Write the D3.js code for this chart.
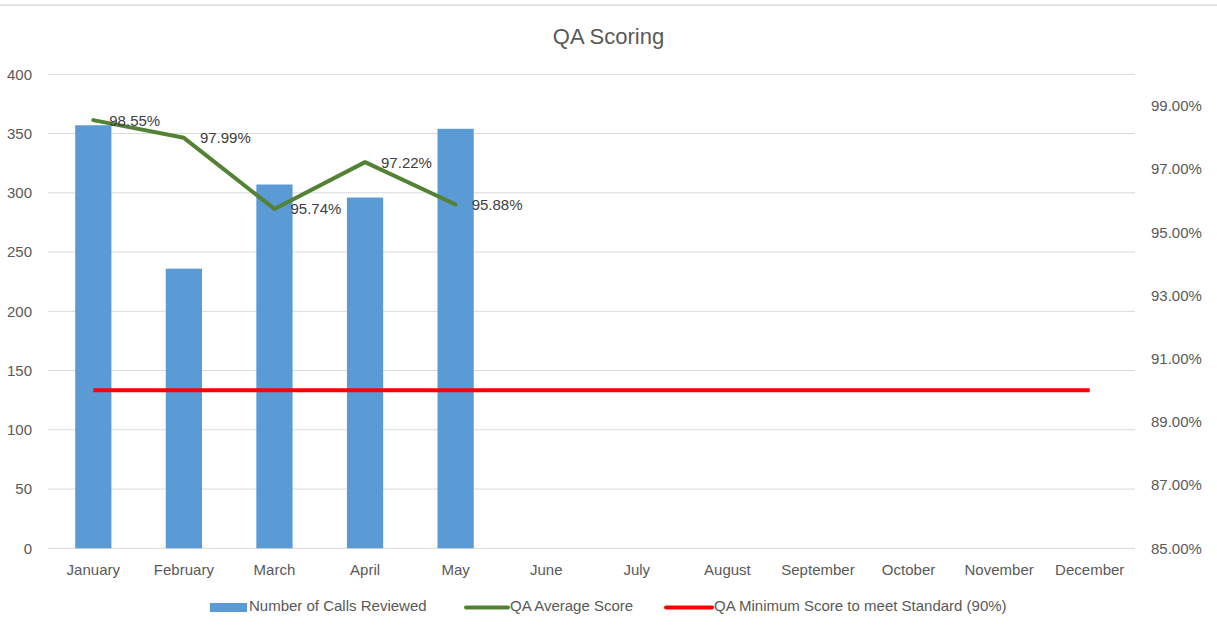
<!DOCTYPE html>
<html>
<head>
<meta charset="utf-8">
<script src="https://cdn.jsdelivr.net/npm/d3@7"></script>
<style>
  html, body { margin: 0; padding: 0; background: #fff; }
  svg { display: block; }
  text { font-family: "Liberation Sans", Arial, sans-serif; fill: #595959; }
</style>
</head>
<body>
<svg id="chart" width="1217" height="628"></svg>
<script>
const months = ["January","February","March","April","May","June","July","August","September","October","November","December"];
const callsReviewed = [357, 236, 307, 296, 354];
const avgScore = [0.9855, 0.9799, 0.9574, 0.9722, 0.9588];
const avgLabels = ["98.55%","97.99%","95.74%","97.22%","95.88%"];
const minScore = [0.90,0.90,0.90,0.90,0.90,0.90,0.90,0.90,0.90,0.90,0.90,0.90];
const leftTicks = [0,50,100,150,200,250,300,350,400];
const rightTicks = [0.85,0.87,0.89,0.91,0.93,0.95,0.97,0.99];
const seriesNames = ["Number of Calls Reviewed","QA Average Score","QA Minimum Score to meet Standard (90%)"];
const title = "QA Scoring";

const svg = d3.select("#chart");
const W = 1217, H = 628;
const plot = {left: 48, right: 1135, top: 74.3, bottom: 548.3};

// chart top border
svg.append("line").attr("x1",0).attr("x2",W).attr("y1",5).attr("y2",5)
  .attr("stroke","#d9d9d9").attr("stroke-width",1.5);

const x = d3.scaleBand().domain(months).range([plot.left, plot.right]).padding(0);
const yL = d3.scaleLinear().domain([0,400]).range([plot.bottom, plot.top]);
const yR = d3.scaleLinear().domain([0.85,1.00]).range([plot.bottom, plot.top]);

// gridlines
svg.append("g").selectAll("line").data(leftTicks).join("line")
  .attr("x1",plot.left).attr("x2",plot.right)
  .attr("y1",d=>yL(d)).attr("y2",d=>yL(d))
  .attr("stroke","#d9d9d9").attr("stroke-width",1);

// title
svg.append("text").attr("x",(plot.left+plot.right)/2 + 17).attr("y",44)
  .attr("text-anchor","middle").style("font-size","22px").text(title);

// left axis
const leftAxis = d3.axisLeft(yL).tickValues(leftTicks).tickSize(0).tickPadding(0);
const gl = svg.append("g").attr("transform",`translate(${32},0)`).call(leftAxis);
gl.select(".domain").remove();
gl.selectAll("text").style("font-size","15px").attr("fill","#595959")
  .attr("font-family","Liberation Sans, Arial, sans-serif");

// right axis
const rightAxis = d3.axisRight(yR).tickValues(rightTicks).tickFormat(d3.format(".2%")).tickSize(0).tickPadding(0);
const gr = svg.append("g").attr("transform",`translate(${1151},0)`).call(rightAxis);
gr.select(".domain").remove();
gr.selectAll("text").style("font-size","15px").attr("fill","#595959")
  .attr("font-family","Liberation Sans, Arial, sans-serif");

// bottom axis
const bottomAxis = d3.axisBottom(x).tickSize(0).tickPadding(0);
const gb = svg.append("g").attr("transform",`translate(0,${564})`).call(bottomAxis);
gb.select(".domain").remove();
gb.selectAll("text").style("font-size","15px").attr("fill","#595959")
  .attr("font-family","Liberation Sans, Arial, sans-serif");

// bars
const barW = x.bandwidth() / 2.5;
svg.append("g").selectAll("rect").data(callsReviewed).join("rect")
  .attr("x",(d,i)=>x(months[i]) + x.bandwidth()/2 - barW/2)
  .attr("width",barW)
  .attr("y",d=>yL(d))
  .attr("height",d=>yL(0)-yL(d))
  .attr("fill","#5b9bd5");

// min score line
const line = d3.line().x(d=>d[0]).y(d=>d[1]);
svg.append("path")
  .attr("d", line(minScore.map((v,i)=>[x(months[i])+x.bandwidth()/2, yR(v)])))
  .attr("fill","none").attr("stroke","#ff0000").attr("stroke-width",4);

// average score line
svg.append("path")
  .attr("d", line(avgScore.map((v,i)=>[x(months[i])+x.bandwidth()/2, yR(v)])))
  .attr("fill","none").attr("stroke","#548235").attr("stroke-width",4)
  .attr("stroke-linejoin","round").attr("stroke-linecap","round");

// data labels
svg.append("g").selectAll("text").data(avgScore).join("text")
  .attr("x",(d,i)=>x(months[i])+x.bandwidth()/2 + 16)
  .attr("y",d=>yR(d)+1.5)
  .attr("dominant-baseline","middle")
  .style("font-size","15px").style("fill","#404040")
  .text((d,i)=>avgLabels[i]);

// legend
const lg = svg.append("g");
const ly = 607.5;
lg.append("rect").attr("x",210).attr("y",ly-4.5).attr("width",37).attr("height",9).attr("fill","#5b9bd5");
lg.append("text").attr("x",249).attr("y",ly).attr("dominant-baseline","middle").style("font-size","15px").text(seriesNames[0]);
lg.append("line").attr("x1",466).attr("x2",508).attr("y1",ly).attr("y2",ly).attr("stroke","#548235").attr("stroke-width",4).attr("stroke-linecap","round");
lg.append("text").attr("x",510).attr("y",ly).attr("dominant-baseline","middle").style("font-size","15px").text(seriesNames[1]);
lg.append("line").attr("x1",666).attr("x2",712).attr("y1",ly).attr("y2",ly).attr("stroke","#ff0000").attr("stroke-width",4).attr("stroke-linecap","round");
lg.append("text").attr("x",714).attr("y",ly).attr("dominant-baseline","middle").style("font-size","15px").text(seriesNames[2]);
</script>
</body>
</html>
